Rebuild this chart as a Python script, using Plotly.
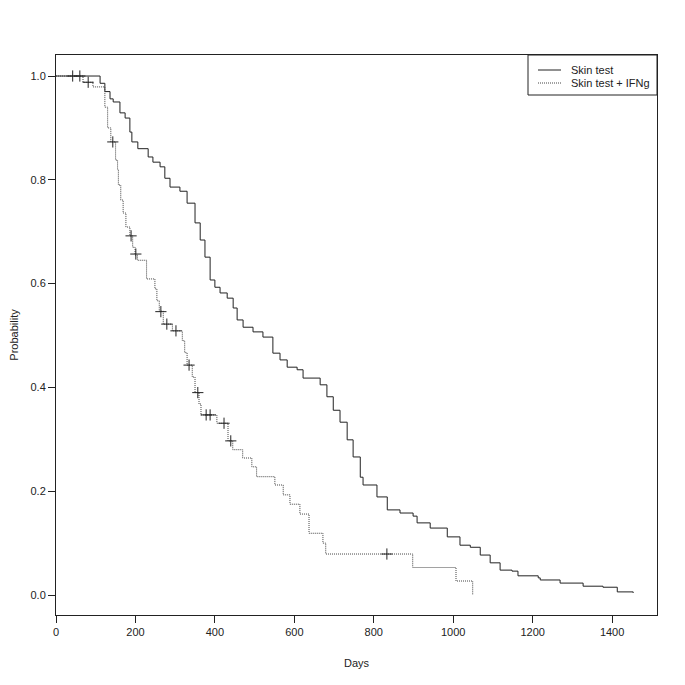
import plotly.graph_objects as go

# Skin test (solid) step curve: day of step, survival after step
skin_days = [0, 111, 123, 136, 144, 161, 174, 186, 191, 206, 232, 244, 262, 274, 287, 312,
             330, 350, 363, 375, 388, 400, 413, 431, 446, 456, 471, 496, 521, 546, 564, 582,
             607, 622, 665, 682, 698, 715, 733, 748, 766, 773, 808, 834, 866, 899, 909, 942,
             985, 1017, 1043, 1068, 1093, 1118, 1148, 1163, 1214, 1219, 1269, 1327, 1377,
             1413, 1453]
skin_surv = [1.0, 0.986, 0.970, 0.956, 0.950, 0.929, 0.919, 0.892, 0.873, 0.860, 0.844, 0.834,
             0.825, 0.803, 0.786, 0.778, 0.755, 0.717, 0.684, 0.651, 0.607, 0.593, 0.582, 0.572,
             0.553, 0.530, 0.516, 0.507, 0.497, 0.466, 0.453, 0.439, 0.434, 0.418, 0.405, 0.382,
             0.356, 0.333, 0.299, 0.266, 0.227, 0.212, 0.189, 0.164, 0.158, 0.152, 0.139, 0.129,
             0.112, 0.096, 0.092, 0.077, 0.062, 0.048, 0.046, 0.037, 0.033, 0.029, 0.023, 0.017,
             0.015, 0.006, 0.004]
skin_cens_days = [42, 60]
skin_cens_surv = [1.0, 1.0]

# Skin test + IFNg (dotted) step curve
ifn_days = [0, 68, 93, 123, 130, 138, 150, 155, 157, 163, 169, 176, 186, 193, 199, 205, 228,
            249, 254, 260, 270, 293, 318, 324, 330, 343, 350, 360, 365, 405, 433, 445, 470,
            493, 505, 551, 572, 589, 614, 637, 672, 679, 898, 1007, 1049]
ifn_surv = [1.0, 0.988, 0.979, 0.940, 0.900, 0.873, 0.838, 0.819, 0.790, 0.761, 0.736, 0.709,
            0.692, 0.670, 0.655, 0.645, 0.609, 0.590, 0.567, 0.547, 0.522, 0.509, 0.490, 0.467,
            0.443, 0.420, 0.390, 0.368, 0.347, 0.331, 0.297, 0.280, 0.264, 0.247, 0.228, 0.212,
            0.193, 0.175, 0.156, 0.119, 0.100, 0.079, 0.053, 0.027, 0.0]
ifn_cens_days = [81, 143, 189, 201, 264, 279, 302, 335, 357, 378, 388, 423, 440, 833]
ifn_cens_surv = [0.988, 0.873, 0.692, 0.657, 0.546, 0.522, 0.509, 0.443, 0.390, 0.347, 0.347,
                 0.331, 0.297, 0.079]

series_names = ["Skin test", "Skin test + IFNg"]
x_ticks = [0, 200, 400, 600, 800, 1000, 1200, 1400]
y_ticks = [0.0, 0.2, 0.4, 0.6, 0.8, 1.0]
y_tick_labels = ["0.0", "0.2", "0.4", "0.6", "0.8", "1.0"]

FONT = "Liberation Sans, Arial, sans-serif"
ink = "#222222"
dot_col = "#444444"
solid_style = dict(color=ink, width=1)
dot_style = dict(color=dot_col, width=1, dash="1px,1px")

fig = go.Figure()
fig.add_trace(go.Scatter(x=skin_days, y=skin_surv, mode="lines", line_shape="hv",
                         line=solid_style, name=series_names[0], showlegend=False))
fig.add_trace(go.Scatter(x=ifn_days, y=ifn_surv, mode="lines", line_shape="hv",
                         line=dot_style, name=series_names[1], showlegend=False))
fig.add_trace(go.Scatter(x=skin_cens_days, y=skin_cens_surv, mode="markers", showlegend=False,
                         marker=dict(symbol="cross-thin", size=8,
                                     line=dict(color=ink, width=1))))
fig.add_trace(go.Scatter(x=ifn_cens_days, y=ifn_cens_surv, mode="markers", showlegend=False,
                         marker=dict(symbol="cross-thin", size=8,
                                     line=dict(color=ink, width=1))))

# page body adds an 8px offset; figure coordinates below are page pixels minus 8
OFF = 8
W = H = 685 - OFF
L, R, T, B = 56 - OFF, 657 - OFF, 55 - OFF, 615 - OFF
pw, ph = R - L, B - T
def px(xp):
    return (xp - OFF - L) / pw
def py(yp):
    return 1 - (yp - OFF - T) / ph

fig.add_shape(type="rect", xref="paper", yref="paper",
              x0=px(528), x1=1, y0=py(95), y1=1,
              line=dict(color=ink, width=1), fillcolor="white", layer="above")
for i, (nm, st) in enumerate(zip(series_names, [solid_style, dot_style])):
    yy = py(70 + 13 * i)
    fig.add_shape(type="line", xref="paper", yref="paper",
                  x0=px(538), x1=px(561), y0=yy, y1=yy,
                  line=st, layer="above")
    fig.add_annotation(xref="paper", yref="paper", x=px(569), y=yy, text=nm,
                       showarrow=False, xanchor="left", yanchor="middle",
                       font=dict(family=FONT, size=11, color=ink))

axis_common = dict(showgrid=False, zeroline=False, showline=True, mirror=True,
                   linecolor=ink, linewidth=1, ticks="outside", ticklen=7,
                   tickcolor=ink, automargin=False,
                   tickfont=dict(family=FONT, size=11, color=ink))

fig.update_layout(
    width=W, height=H,
    margin=dict(l=L, r=W - R, t=T, b=H - B),
    paper_bgcolor="white", plot_bgcolor="white",
    font=dict(family=FONT, size=11, color=ink),
    showlegend=False,
    xaxis=dict(range=[0, 1513], tickvals=x_ticks,
               title=dict(text="Days", standoff=22,
                          font=dict(family=FONT, size=11, color=ink)),
               **axis_common),
    yaxis=dict(range=[-0.0385, 1.0405], tickvals=y_ticks, ticktext=y_tick_labels,
               title=dict(text="Probability", standoff=12,
                          font=dict(family=FONT, size=11, color=ink)),
               **axis_common),
)

fig.write_html("out.html")
